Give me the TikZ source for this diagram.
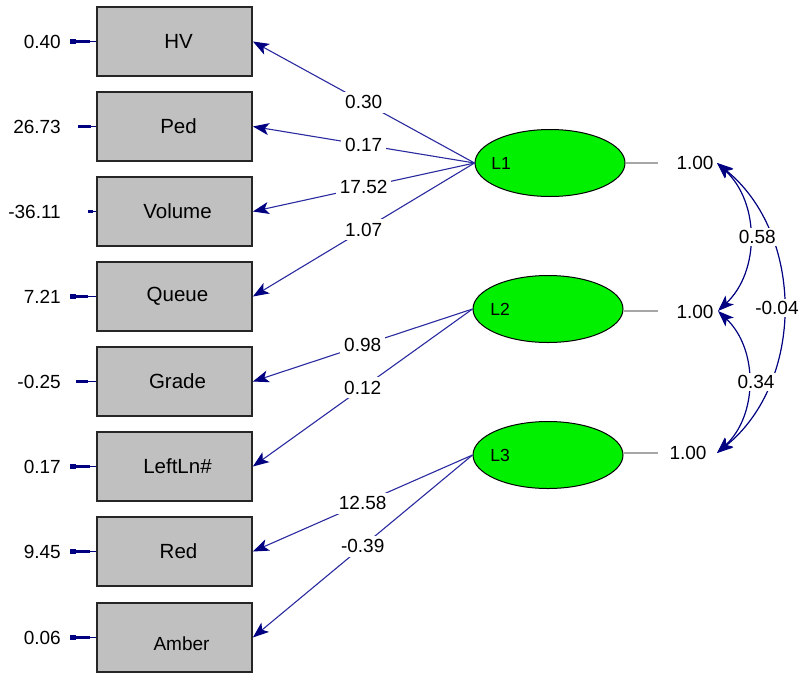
\documentclass[tikz,border=0pt]{standalone}
\usepackage{fontspec}
\setmainfont{Liberation Sans}
\usetikzlibrary{arrows.meta,shapes.geometric}
\definecolor{navyc}{HTML}{000080}
\definecolor{linec}{HTML}{2A2AA0}
\definecolor{boxgray}{HTML}{C0C0C0}
\definecolor{latgreen}{HTML}{00F000}
\begin{document}
\begin{tikzpicture}[x=1pt,y=-1pt,font=\fontsize{19}{22}\selectfont,
  obs/.style={draw=black!85,line width=1.8pt,fill=boxgray,minimum width=155pt,minimum height=69pt,inner sep=0pt,font=\fontsize{20.5}{23}\selectfont},
  lat/.style={ellipse,draw=black,line width=1pt,fill=latgreen,minimum width=150pt,minimum height=67pt,inner sep=0pt},
  latname/.style={font=\fontsize{17.5}{20}\selectfont},
  load/.style={draw=linec,line width=1.1pt,-{Stealth[length=16pt,width=12pt,inset=4pt,color=navyc]}},
  coef/.style={fill=white,inner sep=4pt},
  cov/.style={draw=navyc,line width=1.2pt,{Stealth[length=16pt,width=12pt,inset=4pt]}-{Stealth[length=16pt,width=12pt,inset=4pt]}},
  varline/.style={draw=black!35,line width=1.2pt},
  errthin/.style={draw=navyc,line width=1.2pt},
  errthick/.style={draw=navyc,line width=3.5pt}]
\useasboundingbox (0,0) rectangle (799,672);
% observed boxes
\node[obs] (b1) at (174.5,41.5) {\hspace*{8pt}HV};
\node[obs] (b2) at (174.5,126.5) {\hspace*{8pt}Ped};
\node[obs] (b3) at (174.5,211.5) {\hspace*{6pt}Volume};
\node[obs] (b4) at (174.5,296.5) {\hspace*{6pt}Queue};
\node[obs] (b5) at (174.5,381.5) {\hspace*{6pt}Grade};
\node[obs] (b6) at (174.5,466.5) {\hspace*{6pt}LeftLn\#};
\node[obs] (b7) at (174.5,551.5) {\hspace*{8pt}Red};
\node[obs] (b8) at (174.5,637.5) {\hspace*{14pt}\raisebox{-12.5pt}[0pt][0pt]{\fontsize{19}{22}\selectfont Amber}};
% error terms
\foreach \i/\yy/\val/\s/\e in {1/41.5/0.40/70/90, 2/126.5/26.73/78/91, 3/211.5/-36.11/88/93, 4/296.5/7.21/70/88, 5/381.5/-0.25/76/88, 6/466.5/0.17/70/90, 7/551.5/9.45/70/90, 8/637.5/0.06/70/90}{
  \node[anchor=east,inner sep=0pt] (e\i) at (61,\yy) {\val};
  \coordinate (s\i) at (\s,\yy);
  \coordinate (t\i) at (\e,\yy);
  \draw[errthin] (s\i) -- (b\i.west);
  \draw[errthick] (s\i) -- (t\i);
}
\foreach \i in {1,4,6,7,8}{\draw[navyc,line width=5pt] (s\i) -- ++(6,0);}
% latent variables
\node[lat] (L1) at (550,163) {};
\node[lat] (L2) at (548,309) {};
\node[lat] (L3) at (548,455) {};
\node[latname] (L1t) at (501,163) {L1};
\node[latname] (L2t) at (500,309) {L2};
\node[latname] (L3t) at (500,455) {L3};
% loadings
\draw[load] (L1.west) -- node[coef,pos=0.5] {0.30} (b1.east);
\draw[load] (L1.west) -- node[coef,pos=0.5] {0.17} (b2.east);
\draw[load] (L1.west) -- node[coef,pos=0.5] {17.52} (b3.east);
\draw[load] (L1.west) -- node[coef,pos=0.5] {1.07} (b4.east);
\draw[load] (L2.west) -- node[coef,pos=0.5] {0.98} (b5.east);
\draw[load] (L2.west) -- node[coef,pos=0.5] {0.12} (b6.east);
\draw[load] (L3.west) -- node[coef,pos=0.5] {12.58} (b7.east);
\draw[load] (L3.west) -- node[coef,pos=0.5] {-0.39} (b8.east);
% variances
\coordinate (g1) at (658,163);
\coordinate (g2) at (658,311);
\coordinate (g3) at (658,453);
\draw[varline] (L1.east) -- (g1);
\draw[varline] (L2.east |- g2) -- (g2);
\draw[varline] (L3.east |- g3) -- (g3);
\node (v1) at (695,163) {1.00};
\node (v2) at (695,312) {1.00};
\node (v3) at (688,453) {1.00};
\coordinate (a1) at (717,163);
\coordinate (a2) at (718,311);
\coordinate (a3) at (717,453);
% covariances
\draw[cov] (a1) to[bend left=51] node[coef,pos=0.5,xshift=-6pt,inner sep=2pt] {-0.04} (a3);
\draw[cov] (a1) to[bend left=47] node[coef,pos=0.5,xshift=8pt,inner sep=2pt] {0.58} (a2);
\draw[cov] (a2) to[bend left=47] node[coef,pos=0.5,xshift=8pt,inner sep=2pt] {0.34} (a3);
\end{tikzpicture}
\end{document}
